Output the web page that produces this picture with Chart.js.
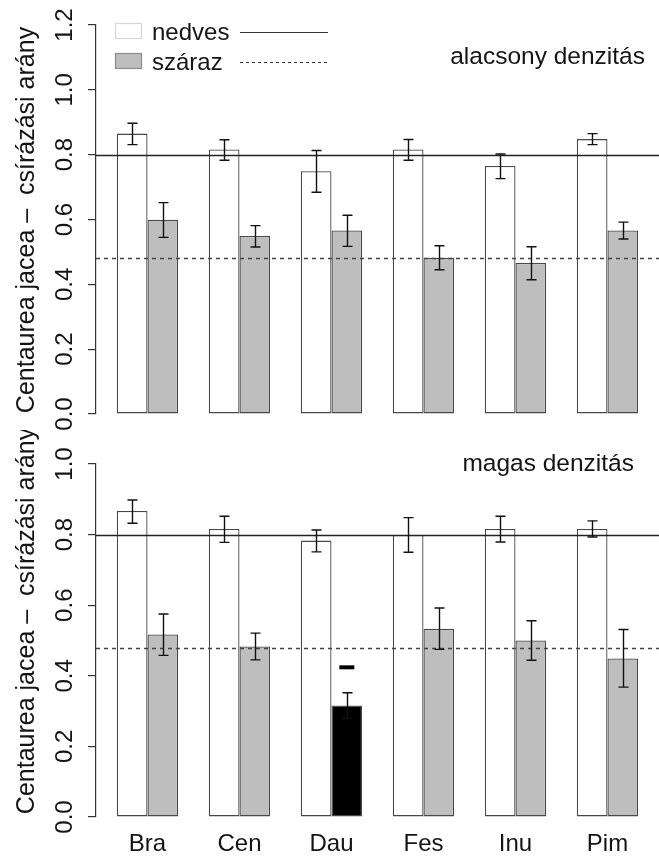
<!DOCTYPE html>
<html>
<head>
<meta charset="utf-8">
<script src="https://cdn.jsdelivr.net/npm/chart.js@4.4.1/dist/chart.umd.min.js"></script>
<style>
  html, body { margin: 0; padding: 0; background: #fff; }
  canvas { display: block; }
</style>
</head>
<body>
<canvas id="lowChart" width="659" height="430"></canvas>
<canvas id="highChart" width="659" height="426"></canvas>
<script>
const categories = ['Bra', 'Cen', 'Dau', 'Fes', 'Inu', 'Pim'];
const seriesNames = ['nedves', 'száraz'];

// alacsony denzitás
const lowWet = [0.865, 0.816, 0.749, 0.816, 0.765, 0.848];
const lowWetLo = [0.831, 0.783, 0.684, 0.783, 0.726, 0.831];
const lowWetHi = [0.897, 0.846, 0.813, 0.847, 0.802, 0.865];
const lowDry = [0.599, 0.549, 0.566, 0.482, 0.466, 0.566];
const lowDryLo = [0.545, 0.515, 0.517, 0.445, 0.414, 0.540];
const lowDryHi = [0.652, 0.581, 0.613, 0.519, 0.516, 0.592];

// magas denzitás
const highWet = [0.867, 0.816, 0.783, 0.799, 0.816, 0.816];
const highWetLo = [0.832, 0.778, 0.751, 0.750, 0.779, 0.793];
const highWetHi = [0.898, 0.852, 0.813, 0.848, 0.852, 0.839];
const highDry = [0.517, 0.483, 0.316, 0.533, 0.500, 0.449];
const highDryLo = [0.458, 0.445, 0.280, 0.475, 0.444, 0.368];
const highDryHi = [0.575, 0.521, 0.352, 0.592, 0.556, 0.531];

// reference means (solid = nedves, dashed = száraz)
const wetMean = 0.80;
const dryMean = 0.48;

// significantly different bar in the high density panel
const highMarked = ['Dau'];
const highMarkValue = 0.424;

const lowMax = 1.2;
const highMax = 1.0;

const yTitle = 'Centaurea jacea \u2013  csírázási arány';
const FONT = "'Liberation Sans', Arial, sans-serif";
const DARK = '#141414';

// barplot layout: group i centred at 2 + 3i, space=c(0,1)
function groupCenter(i) { return 2 + 3 * i; }
function toPoints(values) { return values.map((v, i) => ({ x: groupCenter(i), y: v })); }

const panelDecor = {
  id: 'panelDecor',
  afterDatasetsDraw(chart, args, opts) {
    const ctx = chart.ctx;
    const area = chart.chartArea;
    const y = chart.scales.y;
    ctx.save();

    // reference lines
    ctx.lineWidth = 1.3;
    ctx.strokeStyle = '#222';
    let py = Math.round(y.getPixelForValue(wetMean)) + 0.5;
    ctx.beginPath(); ctx.moveTo(area.left, py); ctx.lineTo(area.right, py); ctx.stroke();
    ctx.strokeStyle = '#444';
    ctx.setLineDash([4, 4]);
    py = Math.round(y.getPixelForValue(dryMean)) + 0.5;
    ctx.beginPath(); ctx.moveTo(area.left, py); ctx.lineTo(area.right, py); ctx.stroke();
    ctx.setLineDash([]);

    // error bars
    ctx.strokeStyle = '#111';
    ctx.lineWidth = 1.4;
    chart.data.datasets.forEach((ds, d) => {
      const meta = chart.getDatasetMeta(d);
      meta.data.forEach((bar, i) => {
        const x = Math.round(bar.x) + 0.5;
        const hi = y.getPixelForValue(ds.errHi[i]);
        const lo = y.getPixelForValue(ds.errLo[i]);
        ctx.beginPath();
        ctx.moveTo(x, hi); ctx.lineTo(x, lo);
        ctx.moveTo(x - 5, hi); ctx.lineTo(x + 5, hi);
        ctx.moveTo(x - 5, lo); ctx.lineTo(x + 5, lo);
        ctx.stroke();
      });
    });

    // significance marks
    if (opts.marked) {
      const meta = chart.getDatasetMeta(1);
      opts.marked.forEach(name => {
        const bar = meta.data[categories.indexOf(name)];
        const my = y.getPixelForValue(opts.markValue);
        ctx.fillStyle = '#000';
        ctx.fillRect(bar.x - 7.5, my - 2, 15, 4);
      });
    }
    ctx.restore();
  },
  afterDraw(chart, args, opts) {
    const ctx = chart.ctx;
    const y = chart.scales.y;
    ctx.save();
    ctx.fillStyle = DARK;

    // rotated y tick labels (R style)
    ctx.font = '24px ' + FONT;
    ctx.textAlign = 'center';
    ctx.textBaseline = 'alphabetic';
    y.ticks.forEach(t => {
      ctx.save();
      ctx.translate(72, y.getPixelForValue(t.value));
      ctx.rotate(-Math.PI / 2);
      ctx.fillText(t.value.toFixed(1), 0, 0);
      ctx.restore();
    });

    // y title
    ctx.save();
    ctx.font = '25px ' + FONT;
    ctx.translate(34, opts.titleY);
    ctx.rotate(-Math.PI / 2);
    ctx.fillText(yTitle, 0, 0);
    ctx.restore();

    // panel label
    ctx.font = '24.5px ' + FONT;
    ctx.textAlign = 'right';
    ctx.fillText(opts.label, opts.labelX, opts.labelY);

    // legend
    if (opts.legend) {
      const rows = [
        { name: seriesNames[0], fill: '#ffffff', stroke: '#d6d6d6', dash: [], y: 23 },
        { name: seriesNames[1], fill: '#bebebe', stroke: '#8c8c8c', dash: [3, 3], y: 53 }
      ];
      ctx.font = '24px ' + FONT;
      ctx.textAlign = 'left';
      rows.forEach(r => {
        ctx.fillStyle = r.fill;
        ctx.fillRect(115, r.y, 27, 16);
        ctx.strokeStyle = r.stroke;
        ctx.lineWidth = 1.2;
        ctx.strokeRect(115.5, r.y + 0.5, 26, 15);
        ctx.fillStyle = DARK;
        ctx.fillText(r.name, 152, r.y + 17);
        ctx.strokeStyle = '#333';
        ctx.setLineDash(r.dash);
        ctx.beginPath();
        ctx.moveTo(240, r.y + 9.5); ctx.lineTo(328, r.y + 9.5);
        ctx.stroke();
        ctx.setLineDash([]);
      });
    }
    ctx.restore();
  }
};

function makePanel(canvasId, wet, wetLo, wetHi, dry, dryLo, dryHi, cfg) {
  const dryColors = categories.map(c => (cfg.marked && cfg.marked.includes(c)) ? '#000000' : '#bebebe');
  return new Chart(document.getElementById(canvasId), {
    type: 'bar',
    data: {
      datasets: [
        {
          label: seriesNames[0],
          data: toPoints(wet),
          errLo: wetLo,
          errHi: wetHi,
          backgroundColor: '#ffffff',
          borderColor: '#484848',
          borderWidth: 1.3,
          borderSkipped: false,
          categoryPercentage: 2 / 3,
          barPercentage: 1
        },
        {
          label: seriesNames[1],
          data: toPoints(dry),
          errLo: dryLo,
          errHi: dryHi,
          backgroundColor: dryColors,
          borderColor: '#484848',
          borderWidth: 1.3,
          borderSkipped: false,
          categoryPercentage: 2 / 3,
          barPercentage: 1
        }
      ]
    },
    options: {
      responsive: false,
      animation: false,
      events: [],
      layout: { padding: { top: cfg.top, left: 0, right: 0, bottom: 0 } },
      scales: {
        x: {
          type: 'linear',
          min: 0.32,
          max: 18.68,
          offset: false,
          afterBuildTicks: s => { s.ticks = categories.map((c, i) => ({ value: groupCenter(i) })); },
          afterFit: s => { s.height = cfg.xHeight; },
          ticks: {
            display: cfg.showX,
            autoSkip: false,
            maxRotation: 0,
            padding: 13,
            color: DARK,
            font: { family: FONT, size: 24 },
            callback: (v, i) => categories[i]
          },
          grid: { display: false, drawTicks: false },
          border: { display: false }
        },
        y: {
          min: 0,
          max: cfg.yMax,
          afterFit: s => { s.width = 96; },
          ticks: { display: false, stepSize: 0.2 },
          grid: { drawOnChartArea: false, drawTicks: true, tickLength: 8, color: '#333', lineWidth: 1.2 },
          border: { display: true, color: '#333', width: 1.2 }
        }
      },
      plugins: {
        legend: { display: false },
        tooltip: { enabled: false },
        panelDecor: {
          label: cfg.label,
          labelX: cfg.labelX,
          labelY: cfg.labelY,
          legend: cfg.legend,
          titleY: cfg.titleY,
          marked: cfg.marked,
          markValue: cfg.markValue
        }
      }
    },
    plugins: [panelDecor]
  });
}

makePanel('lowChart', lowWet, lowWetLo, lowWetHi, lowDry, lowDryLo, lowDryHi, {
  top: 25, xHeight: 16, showX: false, yMax: lowMax,
  label: 'alacsony denzitás', labelX: 645, labelY: 64,
  legend: true, titleY: 220
});

makePanel('highChart', highWet, highWetLo, highWetHi, highDry, highDryLo, highDryHi, {
  top: 34, xHeight: 39, showX: true, yMax: highMax,
  label: 'magas denzitás', labelX: 634, labelY: 41,
  legend: false, titleY: 191,
  marked: highMarked, markValue: highMarkValue
});
</script>
</body>
</html>
